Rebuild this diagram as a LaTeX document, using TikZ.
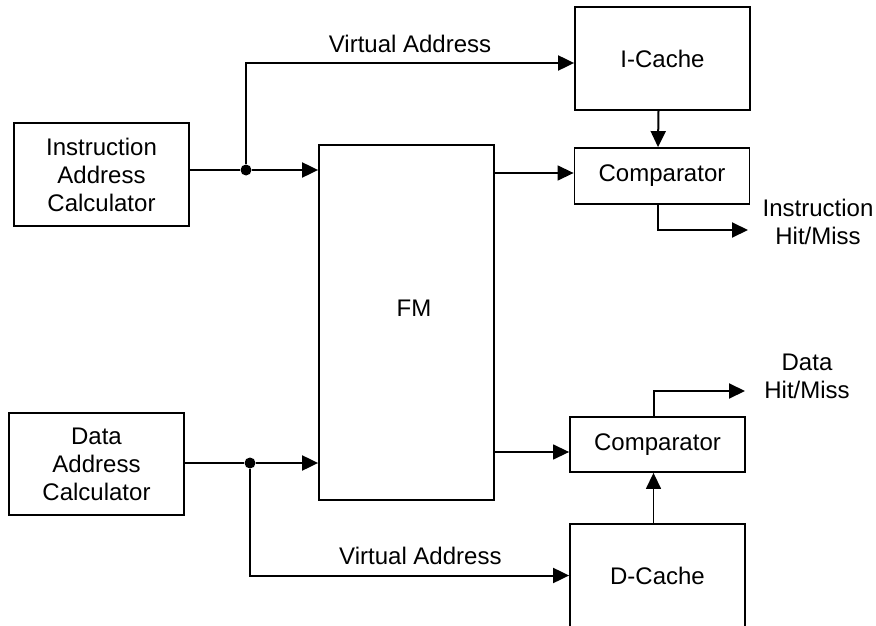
\documentclass[tikz,border=0pt]{standalone}
\usepackage{fontspec}
\setmainfont{Liberation Sans}
\usetikzlibrary{arrows.meta,calc}
\tikzset{
  blk/.style={draw, line width=1.8pt, rectangle, minimum width=175pt, align=center, inner sep=0pt},
  lnk/.style={-{Triangle[length=16pt,width=15pt]}, line width=2pt},
  thinlnk/.style={-{Triangle[length=16pt,width=15pt]}, line width=1.4pt},
  wire/.style={line width=2pt},
  jdot/.style={circle, fill=black, inner sep=0pt, minimum size=11pt},
  lbl/.style={align=center, inner sep=0pt}
}

\begin{document}
\begin{tikzpicture}[x=1pt, y=-1pt, every node/.style={font=\fontsize{24}{28}\selectfont}]
  \useasboundingbox (0,0) rectangle (876,626);
  % address calculators and FM
  \node[blk, minimum height=103pt] (iac) at (101.5,174.5) {Instruction\\Address\\Calculator};
  \node[blk, minimum height=102pt] (dac) at (96.5,464) {Data\\Address\\Calculator};
  \node[blk, minimum height=355pt] (fm) at (406.5,322.5) {};
  \node (fmlbl) at (414,308) {FM};
  % caches and comparators
  \node[blk, minimum height=103pt] (icache) at (662.5,58.5) {I-Cache};
  \node[blk, minimum height=56pt] (cmpi) at (662,176) {Comparator};
  \node[blk, minimum height=55pt] (cmpd) at (657.5,444.5) {Comparator};
  \node[blk, minimum height=103pt] (dcache) at (657.5,575.5) {D-Cache};

  \node[jdot] (ijn) at (246,170) {};
  \node[jdot] (djn) at (250,463) {};
  \coordinate (iin) at ([yshift=-4.5pt]icache.west);
  \coordinate (iout) at ([yshift=3pt]cmpi.west);
  \coordinate (dout) at ([yshift=-7.5pt]cmpd.west);
  \coordinate (ihit) at (748,230);
  \coordinate (dhit) at (745,391);

  % instruction side
  \draw[wire] (iac.east |- ijn) -- (ijn);
  \draw[lnk] (ijn) -- (fm.west |- ijn);
  \draw[lnk] (ijn) |- node[pos=0.75, above=6pt]{Virtual Address} (iin);
  \draw[thinlnk] (fm.east |- iout) -- (iout);
  \draw[lnk] ([xshift=-4pt]icache.south) -- ([xshift=-4pt]cmpi.north);
  \draw[lnk] ([xshift=-4pt]cmpi.south) |- (ihit);
  \node[lbl] (ihm) at (818,222) {Instruction\\Hit/Miss};

  % data side
  \draw[wire] (dac.east |- djn) -- (djn);
  \draw[lnk] (djn) -- (fm.west |- djn);
  \draw[lnk] (djn) |- node[pos=0.767, above=6pt]{Virtual Address} (dcache.west);
  \draw[thinlnk] (fm.east |- dout) -- (dout);
  \draw[thinlnk] ([xshift=-4pt]dcache.north) -- ([xshift=-4pt]cmpd.south);
  \draw[lnk] ([xshift=-4pt]cmpd.north) |- (dhit);
  \node[lbl] (dhm) at (807,376) {Data\\Hit/Miss};
\end{tikzpicture}
\end{document}
